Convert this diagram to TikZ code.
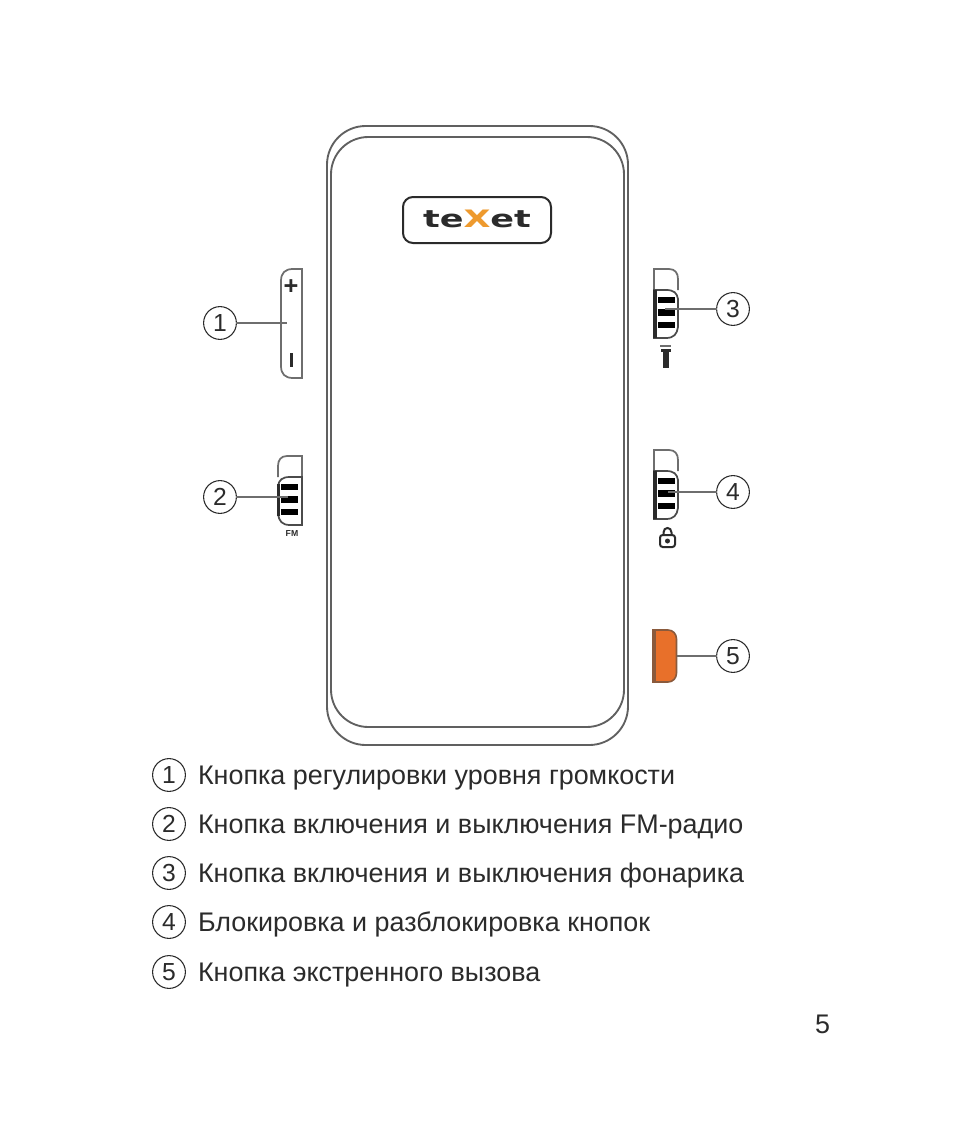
\documentclass[tikz,border=0pt]{standalone}
\usepackage{fontspec}
\setmainfont{Liberation Sans}
\newfontfamily\logofont{DejaVu Sans}
\definecolor{ink}{HTML}{2B2B2B}
\definecolor{greyline}{HTML}{6E6E6E}
\definecolor{orangebtn}{HTML}{E8702A}
\definecolor{orangeedge}{HTML}{8A5A3C}
\definecolor{logoX}{HTML}{EE9A2E}
\tikzset{
  every node/.style={inner sep=0pt,outer sep=0pt},
  body/.style={draw=ink!75,line width=1.4pt},
  num/.style={circle,draw=ink,line width=0.8pt,minimum size=24.6pt,font=\fontsize{18.5pt}{20pt}\selectfont,text=ink},
  lead/.style={draw=greyline,line width=1.1pt},
  legend/.style={anchor=base west,font=\fontsize{20.18pt}{22pt}\selectfont,text=ink},
  slider/.pic={
    \draw[greyline,line width=1.3pt] (24,21) -- (24,0) -- (9,0) .. controls (3,0) and (0,4) .. (0,10) -- (0,21);
    \draw[ink!85,line width=1.3pt] (24,21) -- (12,21) .. controls (4,21) and (1,24) .. (0,30) -- (0,58) .. controls (1,65) and (4,69) .. (12,69) -- (24,69) -- cycle;
    \fill[black] (3,27.5) rectangle (20,33.5);
    \fill[black] (3,40) rectangle (20,46.5);
    \fill[black] (3,52.5) rectangle (20,58.5);
  }
}
\begin{document}
\begin{tikzpicture}[x=0.75pt,y=-0.75pt]
\useasboundingbox[fill=white] (0,0) rectangle (954,1145);
% body
\draw[body,rounded corners=29pt] (327,126) rectangle (628,745);
\draw[body,rounded corners=28pt] (331,137) rectangle (624,727);
% logo
\draw[ink,line width=1.5pt,rounded corners=7.5pt] (403,197) rectangle (551,243);
\node[font=\logofont\bfseries\fontsize{15pt}{15pt}\selectfont,text=ink] (logo) at (477,219) {\scalebox{1.75}[1.2]{te{\color{logoX}X}et}};
% volume button
\draw[greyline,line width=1.3pt] (302,269) -- (302,378) -- (293,378) .. controls (285,378) and (281,374) .. (281,366) -- (281,281) .. controls (281,273) and (285,269) .. (293,269) -- cycle;
\node[font=\bfseries\fontsize{19pt}{19pt}\selectfont,text=ink] (plus) at (291,287) {+};
\fill[ink] (289.5,353) rectangle (292.5,367);
\node[num] (c1) at (220,323) {1};
\coordinate (e1) at (287,323);
\draw[lead] (c1) -- (e1);
% FM slider
\pic at (278,456) {slider};
\fill[ink] (277,484) rectangle (280,516);
\node[font=\bfseries\fontsize{6.5pt}{6pt}\selectfont,text=ink] (fm) at (292,534) {FM};
\node[num] (c2) at (220,497) {2};
\coordinate (e2) at (288,497);
\draw[lead] (c2) -- (e2);
% torch slider
\pic[xscale=-1] at (678,269) {slider};
\fill[ink] (653,290) rectangle (656.5,338);
\fill[greyline] (660,345) rectangle (671,347);
\fill[ink] (661,349) rectangle (671,352);
\fill[ink] (663,352) rectangle (668.5,368);
\node[num] (c3) at (733,309) {3};
\coordinate (e3) at (665,309);
\draw[lead] (c3) -- (e3);
% lock slider
\pic[xscale=-1] at (678,450) {slider};
\fill[ink] (653,471) rectangle (656.5,519);
\draw[ink,line width=1.5pt,rounded corners=2pt] (660,535) rectangle (675,547);
\draw[ink,line width=1.5pt] (663.5,535) -- (663.5,532.5) .. controls (663.5,526.5) and (671.5,526.5) .. (671.5,532.5) -- (671.5,535);
\fill[ink] (667.5,541) circle[radius=2.5];
\node[num] (c4) at (733,492) {4};
\coordinate (e4) at (668,492);
\draw[lead] (c4) -- (e4);
% emergency button
\draw[orangeedge,fill=orangebtn,line width=1.2pt] (653,630) -- (668,630) .. controls (673,630) and (676.5,634) .. (676.5,639) -- (676.5,673) .. controls (676.5,678) and (673,682) .. (668,682) -- (653,682) -- cycle;
\fill[orangeedge] (652.5,630) rectangle (655.5,682);
\node[num] (c5) at (733,656) {5};
\coordinate (e5) at (677,656);
\draw[lead] (c5) -- (e5);
% legend
\node[num] (l1) at (169,775) {1};
\node[num] (l2) at (169,824) {2};
\node[num] (l3) at (169,873) {3};
\node[num] (l4) at (169,922) {4};
\node[num] (l5) at (169,972) {5};
\node[legend] (t1) at (198,784) {Кнопка регулировки уровня громкости};
\node[legend] (t2) at (198,833) {Кнопка включения и выключения FM-радио};
\node[legend] (t3) at (198,882) {Кнопка включения и выключения фонарика};
\node[legend] (t4) at (198,931) {Блокировка и разблокировка кнопок};
\node[legend] (t5) at (198,981) {Кнопка экстренного вызова};
\node[legend] (page) at (815,1033) {5};
\end{tikzpicture}
\end{document}
